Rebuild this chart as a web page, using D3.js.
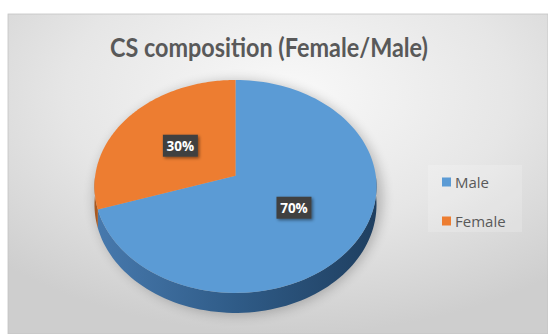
<!DOCTYPE html>
<html><head><meta charset="utf-8">
<script src="https://cdn.jsdelivr.net/npm/d3@7"></script>
<style>html,body{margin:0;padding:0;background:#fff;}svg{display:block;}</style>
</head><body>
<svg id="chart" width="548" height="334"></svg>
<script>
const title = "CS composition (Female/Male)";
const categories = ["Male", "Female"];
const values = [70, 30];
const labels = ["70%", "30%"];
const colors = ["#5b9bd5", "#ed7d31"];
const sideColors = ["#3a6a98", "#a8581f"];

const svg = d3.select("#chart");
const defs = svg.append("defs");

const bg = defs.append("radialGradient").attr("id","bg").attr("cx","0.52").attr("cy","0.25").attr("r","0.75");
bg.append("stop").attr("offset","0").attr("stop-color","#f9f9f9");
bg.append("stop").attr("offset","0.55").attr("stop-color","#e6e6e6");
bg.append("stop").attr("offset","1").attr("stop-color","#cecece");

const side = defs.append("linearGradient").attr("id","side").attr("x1","0").attr("x2","1").attr("y1","0").attr("y2","0");
side.append("stop").attr("offset","0").attr("stop-color","#4779ad");
side.append("stop").attr("offset","0.5").attr("stop-color","#2f5b87");
side.append("stop").attr("offset","1").attr("stop-color","#1f3f60");

const blur = defs.append("filter").attr("id","blur").attr("x","-20%").attr("y","-20%").attr("width","140%").attr("height","140%");
blur.append("feGaussianBlur").attr("stdDeviation","6");
const ls = defs.append("filter").attr("id","ls").attr("x","-30%").attr("y","-30%").attr("width","160%").attr("height","160%");
ls.append("feDropShadow").attr("dx","1.5").attr("dy","1.5").attr("stdDeviation","1.5").attr("flood-color","#000").attr("flood-opacity","0.45");

// panel
svg.append("rect").attr("x",8).attr("y",14).attr("width",540).attr("height",320)
  .attr("fill","url(#bg)").attr("stroke","#c4c4c4").attr("stroke-width",0.8);

// title
svg.append("text").attr("x",269).attr("y",57).attr("text-anchor","middle")
  .attr("font-family","Lato, 'Open Sans', sans-serif").attr("font-weight","bold")
  .attr("font-size",27.5).attr("fill","#595959")
  .attr("textLength",318).attr("lengthAdjust","spacingAndGlyphs").text(title);

// pie geometry with slight perspective
const cx = 235.5, cy = 175.8, rx = 140.3, ry = 105.4, depth = 18, k = 0.1;
const pie = d3.pie().sort(null).value(d => d)(values);
function proj(a, r, dz) {
  const u = r*Math.sin(a), v = r*Math.cos(a), s = 1/(1 + k*v);
  return [cx + rx*u*s, cy - ry*v*s + (dz||0)*s];
}

// shadow
svg.append("ellipse").attr("cx",cx+3).attr("cy",cy+22).attr("rx",rx+4).attr("ry",ry+12)
  .attr("fill","#000").attr("opacity",0.22).attr("filter","url(#blur)");

// sides (front half only)
const line = d3.line();
const sideG = svg.append("g");
pie.forEach((d,i) => {
  const a0 = Math.max(d.startAngle, Math.PI/2), a1 = Math.min(d.endAngle, 3*Math.PI/2);
  if (a1 <= a0) return;
  const n = 80, pts = [];
  for (let j=0;j<=n;j++) pts.push(proj(a0+(a1-a0)*j/n, 1, 0));
  for (let j=n;j>=0;j--) pts.push(proj(a0+(a1-a0)*j/n, 1, depth));
  sideG.append("path").attr("d", line(pts)+"Z")
    .attr("fill", i===0 ? "url(#side)" : sideColors[i]);
});

// top face
const topG = svg.append("g");
pie.forEach((d,i) => {
  const n = 120, pts = [proj(0,0,0)];
  for (let j=0;j<=n;j++) pts.push(proj(d.startAngle+(d.endAngle-d.startAngle)*j/n, 1, 0));
  topG.append("path").attr("d", line(pts)+"Z").attr("fill", colors[i]);
});

// data labels
const lr = 0.5;
pie.forEach((d,i) => {
  const [x,y] = proj((d.startAngle + d.endAngle)/2, lr, 0);
  const g = svg.append("g").attr("transform",`translate(${x},${y})`);
  g.append("rect").attr("x",-17.5).attr("y",-11).attr("width",35).attr("height",22)
    .attr("fill","#404040").attr("filter","url(#ls)");
  g.append("text").attr("text-anchor","middle").attr("y",5)
    .attr("font-family","'Open Sans', sans-serif").attr("font-weight","bold").attr("font-size",13.5)
    .attr("fill","#fff").text(labels[i]);
});

// legend
svg.append("rect").attr("x",428).attr("y",165).attr("width",94).attr("height",67)
  .attr("fill","#ffffff").attr("opacity",0.18);
const leg = svg.append("g");
categories.forEach((c,i) => {
  const y = 182 + i*39;
  leg.append("rect").attr("x",442).attr("y",y-4.5).attr("width",9).attr("height",9).attr("fill",colors[i]);
  leg.append("text").attr("x",455).attr("y",y+5.5)
    .attr("font-family","'Open Sans', sans-serif").attr("font-size",15).attr("fill","#595959").text(c);
});
</script>
</body></html>
